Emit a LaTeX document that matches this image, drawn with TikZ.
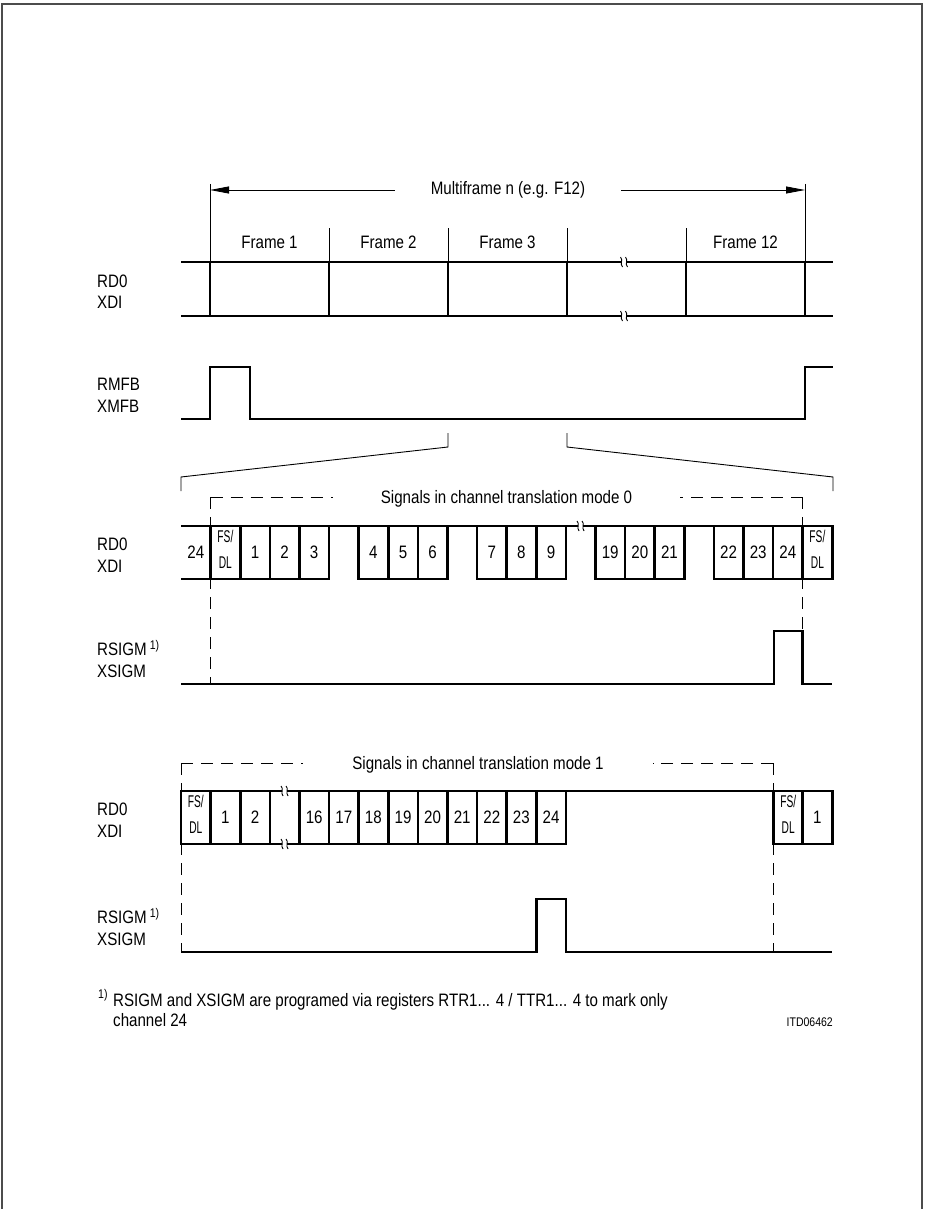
\documentclass[tikz,border=0pt]{standalone}
\usepackage{fontspec}
\setmainfont{Liberation Sans}[FakeStretch=0.84]
\newfontfamily\narrowsf{Liberation Sans}[FakeStretch=0.6]
\usetikzlibrary{arrows.meta,positioning}

\tikzset{
  sig/.style={line width=2.6pt},
  hair/.style={line width=0.9pt},
  dsh/.style={line width=0.9pt,dash pattern=on 12pt off 8pt},
  cell/.style={draw,line width=2.6pt,minimum width=29.6pt,minimum height=53pt,inner sep=0pt,font=\fontsize{18}{20}\selectfont},
  ctxt/.style={inner sep=0pt,font=\fontsize{18}{20}\selectfont},
  fstxt/.style={inner sep=0pt,font=\narrowsf\fontsize{17}{20}\selectfont},
  sname/.style={anchor=west,align=left,inner sep=0pt,font=\fontsize{18}{21.5}\selectfont},
  title/.style={inner ysep=0pt,font=\fontsize{18}{20}\selectfont}
}
% break sign on a signal line
\newcommand{\brkmark}[2]{%
  \fill[white] (#1-2.5,#2-2) rectangle (#1+2.5,#2+2);
  \draw[hair] (#1-3.5,#2-5) .. controls (#1-0.5,#2-2) and (#1-4.5,#2+2) .. (#1-1.5,#2+5);
  \draw[hair] (#1+1.5,#2-5) .. controls (#1+4.5,#2-2) and (#1+0.5,#2+2) .. (#1+3.5,#2+5);}
% FS/DL time slot
\newcommand{\fsdl}[3]{%
  \node[cell] (#1) at (#2,#3) {};
  \node[fstxt] (#1u) at ([yshift=16pt]#1.center) {FS/};
  \node[fstxt] (#1d) at ([yshift=-10pt]#1.center) {DL};}

\begin{document}
\begin{tikzpicture}[x=1pt,y=-1pt,>={Triangle[length=19pt,width=7pt]}]
  \useasboundingbox (0,0) rectangle (924,1209);
  \draw[line width=1.5pt,black!70] (2,1209) -- (2,4) -- (922,4) -- (922,1209);

  % multiframe
  \node[title,inner xsep=36pt] (mf) at (508,190) {Multiframe n (e.g. F12)};
  \coordinate (mfL) at (210,190);
  \coordinate (mfR) at (805,190);
  \draw[hair,->] (mf.west) -- (mfL);
  \draw[hair,->] (mf.east) -- (mfR);
  \draw[hair] (210,184) -- (210,228);
  \draw[hair] (805,184) -- (805,228);
  \foreach \x/\n/\t in {269.5/1/Frame 1,388.5/2/Frame 2,507.5/3/Frame 3,745.5/12/Frame 12}
     \node[title] (fr\n) at (\x,242) {\t};

  % frames
  \draw[sig] (181,262) -- (833,262);
  \draw[sig] (181,316) -- (833,316);
  \foreach \x in {210,329,448,567,686,805}{\draw[hair] (\x,228) -- (\x,262);
     \draw[sig] (\x,262) -- (\x,316);}
  \brkmark{624}{262}
  \brkmark{624}{316}
  \node[sname] (nrd1) at (97,291.5) {RD0\\XDI};

  % multiframe begin
  \draw[sig] (181,419) -- (210,419) -- (210,367) -- (250,367) -- (250,419) -- (805,419) -- (805,367) -- (833,367);
  \node[sname] (nmfb) at (97,395.5) {RMFB\\XMFB};

  % zoom into frame 3
  \coordinate (t3a) at (448,433); \coordinate (t3b) at (448,447);
  \coordinate (t3c) at (567,433); \coordinate (t3d) at (567,447);
  \coordinate (bl) at (181,477); \coordinate (blb) at (181,491);
  \coordinate (br) at (833,477); \coordinate (brb) at (833,491);
  \draw[hair] (t3a) -- (t3b) -- (bl) -- (blb);
  \draw[hair] (t3c) -- (t3d) -- (br) -- (brb);

  % mode 0
  \node[title,inner xsep=48pt] (s0) at (506.5,499) {Signals in channel translation mode 0};
  \coordinate (s0L) at (210.6,497); \coordinate (s0Lb) at (210.6,684);
  \coordinate (s0R) at (802.6,497); \coordinate (s0Rb) at (802.6,684);
  \draw[dsh] (s0L) -- (s0L -| s0.west);
  \draw[dsh] (s0L) -- (s0Lb);
  \draw[dsh] (s0R) -- (s0R -| s0.east);
  \draw[dsh] (s0R) -- (s0Rb);
  \draw[sig] (181,526) -- (832.2,526);
  \draw[sig] (181,579) -- (210.6,579);
  \node[ctxt] (a0) at (195.8,552.5) {24};
  \foreach \k/\t in {2/1,3/2,4/3,6/4,7/5,8/6,10/7,11/8,12/9,14/19,15/20,16/21,18/22,19/23,20/24}
     \node[cell] (a\k) at ({181+(\k+0.5)*29.6},552.5) {\t};
  \fsdl{a1}{225.4}{552.5}
  \fsdl{a21}{817.4}{552.5}
  \brkmark{580.6}{526}
  \node[sname] (nrd2) at (97,555) {RD0\\XDI};
  \draw[sig] (181,684) -- (773.8,684) -- (773.8,631) -- (802.6,631) -- (802.6,684) -- (832.2,684);
  \node[sname] (nsig2) at (97,659) {RSIGM\,\textsuperscript{1)}\\XSIGM};

  % mode 1
  \node[title,inner xsep=49pt] (s1) at (478,765) {Signals in channel translation mode 1};
  \coordinate (s1L) at (181,763); \coordinate (s1Lb) at (181,952);
  \coordinate (s1R) at (773,763); \coordinate (s1Rb) at (773,952);
  \draw[dsh] (s1L) -- (s1L -| s1.west);
  \draw[dsh] (s1L) -- (s1Lb);
  \draw[dsh] (s1R) -- (s1R -| s1.east);
  \draw[dsh] (s1R) -- (s1Rb);
  \draw[sig] (181,791) -- (832.2,791);
  \draw[sig] (269.8,844) -- (299.4,844);
  \foreach \k/\t in {1/1,2/2,4/16,5/17,6/18,7/19,8/20,9/21,10/22,11/23,12/24,21/1}
     \node[cell] (b\k) at ({181+(\k+0.5)*29.6},817.5) {\t};
  \fsdl{b0}{195.8}{817.5}
  \fsdl{b20}{788.2}{817.5}
  \brkmark{284.6}{791}
  \brkmark{284.6}{844}
  \node[sname] (nrd3) at (97,820) {RD0\\XDI};
  \draw[sig] (181,952) -- (536.2,952) -- (536.2,899) -- (565.8,899) -- (565.8,952) -- (832.2,952);
  \node[sname] (nsig3) at (97,927) {RSIGM\,\textsuperscript{1)}\\XSIGM};

  % footnote
  \node[anchor=base west,inner sep=0pt,font=\fontsize{12.6}{14}\selectfont] (fnm) at (98,998) {1)};
  \node[anchor=base west,inner sep=0pt,font=\fontsize{18}{20}\selectfont] (fn1) at (113,1006.5) {RSIGM and XSIGM are programed via registers RTR1... 4 / TTR1... 4 to mark only};
  \node[anchor=base west,inner sep=0pt,font=\fontsize{18}{20}\selectfont] (fn2) at (113,1026.5) {channel 24};
  \node[anchor=base east,inner sep=0pt,font=\fontsize{12.5}{14}\selectfont] (itd) at (833,1026.5) {ITD06462};
\end{tikzpicture}
\end{document}
